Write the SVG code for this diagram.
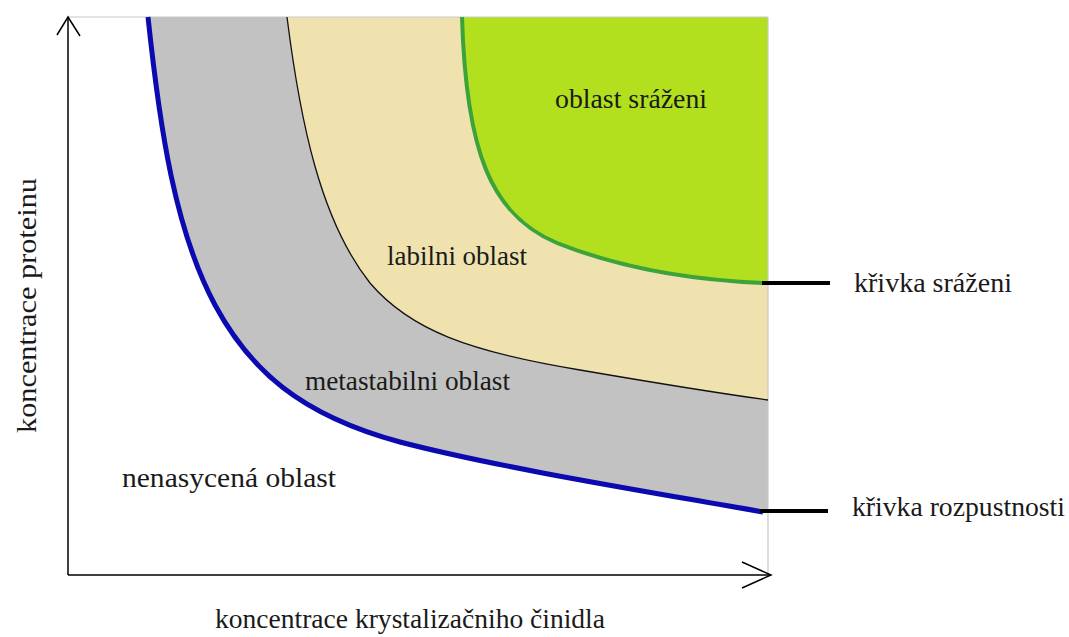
<svg xmlns="http://www.w3.org/2000/svg" width="1069" height="637" viewBox="0 0 1069 637">
  <style>
    .lbl { font-family: "Liberation Serif", "Times New Roman", serif; font-size: 28px; fill: #1a1a1a; }
    .axis { stroke: #000; stroke-width: 1.5; fill: none; }
    .frame { stroke: #c8c8c8; stroke-width: 1.2; fill: none; }
    .callout { stroke: #000; stroke-width: 4; }
  </style>
  <rect width="1069" height="637" fill="#ffffff"/>

  <g id="regions">
    <path id="metastable-region" d="M148,17 C160,130 175,230 215,305 C250,370 300,415 400,442 C500,468 650,492 768,513 L768,17 Z" fill="#c2c2c2"/>
    <path id="labile-region" d="M287,17 C300,120 320,220 370,283 C410,330 470,352 580,370 C650,382 710,392 768,400 L768,17 Z" fill="#efe2ae"/>
    <path id="precipitation-region" d="M462,17 C466,150 490,215 557,243 C620,268 690,280 768,283 L768,17 Z" fill="#b2e01e"/>
  </g>

  <g id="frame">
    <line class="frame" x1="68" y1="17" x2="768" y2="17"/>
    <line class="frame" x1="768" y1="17" x2="768" y2="575"/>
  </g>

  <g id="curves">
    <path id="solubility-curve" d="M148,17 C160,130 175,230 215,305 C250,370 300,415 400,442 C500,468 650,492 763,512" fill="none" stroke="#0a0ab0" stroke-width="5"/>
    <path id="supersolubility-curve" d="M287,17 C300,120 320,220 370,283 C410,330 470,352 580,370 C650,382 710,392 768,400" fill="none" stroke="#111" stroke-width="1.3"/>
    <path id="precipitation-curve" d="M462,17 C466,150 490,215 557,243 C620,268 690,280 763,283" fill="none" stroke="#3ca23a" stroke-width="4"/>
  </g>

  <g id="axes">
    <line class="axis" x1="68" y1="17" x2="68" y2="575"/>
    <line class="axis" x1="68" y1="575" x2="771" y2="575"/>
    <polyline class="axis" points="57,35 68,17 80,36" stroke-width="1.2"/>
    <polyline class="axis" points="742,562 771,575 742,588" stroke-width="1.2"/>
  </g>

  <g id="connectors">
    <line class="callout" x1="762" y1="283" x2="830" y2="283"/>
    <line class="callout" x1="760" y1="511" x2="828" y2="511"/>
  </g>

  <g id="label-precipitation-area"><text class="lbl" x="555" y="108" textLength="152" lengthAdjust="spacingAndGlyphs">oblast sráženi</text></g>
  <g id="label-labile"><text class="lbl" x="387" y="265" textLength="140" lengthAdjust="spacingAndGlyphs">labilni oblast</text></g>
  <g id="label-metastable"><text class="lbl" x="305" y="390" textLength="205" lengthAdjust="spacingAndGlyphs">metastabilni oblast</text></g>
  <g id="label-unsaturated"><text class="lbl" x="122" y="487" textLength="214" lengthAdjust="spacingAndGlyphs">nenasycená oblast</text></g>
  <g id="label-precipitation-curve"><text class="lbl" x="854" y="292" textLength="158" lengthAdjust="spacingAndGlyphs">křivka sráženi</text></g>
  <g id="label-solubility-curve"><text class="lbl" x="852" y="516" textLength="213" lengthAdjust="spacingAndGlyphs">křivka rozpustnosti</text></g>
  <g id="label-x-axis"><text class="lbl" x="215" y="628" textLength="390" lengthAdjust="spacingAndGlyphs">koncentrace krystalizačniho činidla</text></g>
  <g id="label-y-axis"><text class="lbl" transform="translate(36,433) rotate(-90)" x="0" y="0" textLength="255" lengthAdjust="spacingAndGlyphs">koncentrace proteinu</text></g>
</svg>
